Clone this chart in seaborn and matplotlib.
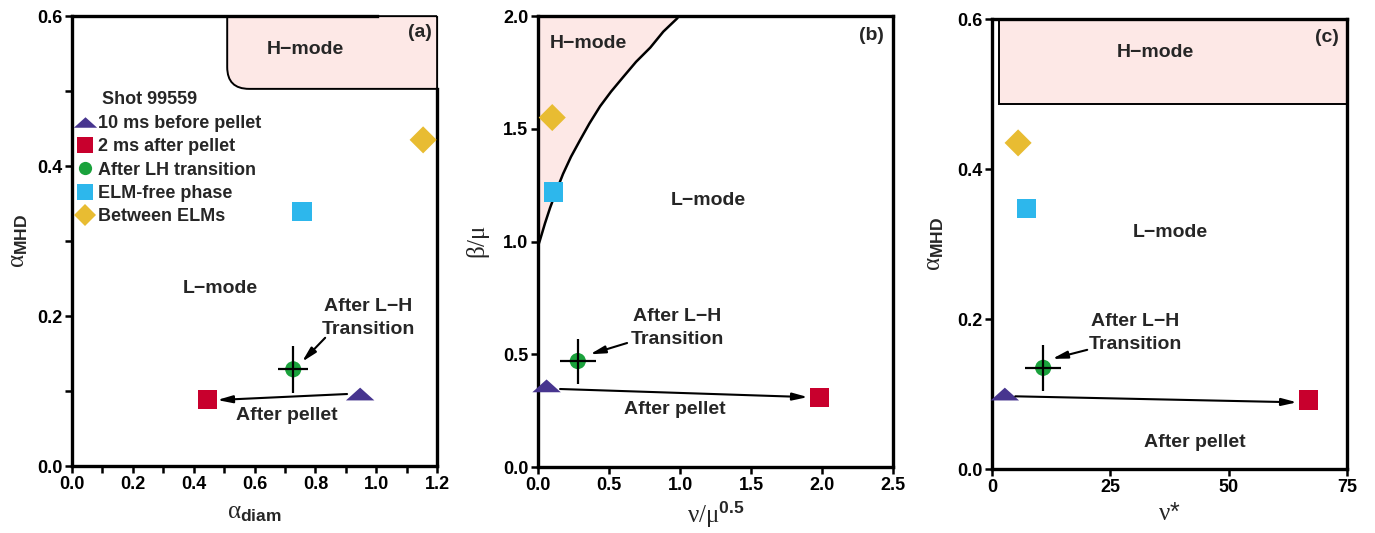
import numpy as np
import pandas as pd
import seaborn as sns
import matplotlib
matplotlib.use("Agg")
import matplotlib.pyplot as plt
from matplotlib.path import Path
from matplotlib.patches import PathPatch, Rectangle
from matplotlib.lines import Line2D

# ---------------- data ----------------
phases = ["10 ms before pellet", "2 ms after pellet", "After LH transition",
          "ELM-free phase", "Between ELMs"]
colors = ["#47358f", "#c8002d", "#1aa23c", "#2db7ec", "#e8bc32"]

# panel (a): alpha_diam vs alpha_MHD
a_x = [0.947, 0.444, 0.727, 0.756, 1.154]
a_y = [0.096, 0.089, 0.129, 0.340, 0.435]
a_xerr = 0.049
a_yerr = 0.031

# panel (b): nu/mu^0.5 vs beta/mu
b_x = [0.06, 1.98, 0.28, 0.107, 0.10]
b_y = [0.36, 0.31, 0.47, 1.22, 1.55]
b_xerr = 0.125
b_yerr = 0.10
# H-mode boundary
curve_x = [0.0, 0.014, 0.049, 0.085, 0.131, 0.176, 0.232, 0.296, 0.362,
           0.437, 0.514, 0.60, 0.69, 0.79, 0.882, 0.98, 0.99]
curve_y = [0.98, 1.007, 1.081, 1.15, 1.228, 1.30, 1.376, 1.45, 1.524,
           1.60, 1.665, 1.73, 1.797, 1.86, 1.931, 1.99, 2.0]

# panel (c): nu* vs alpha_MHD
c_x = [2.7, 66.8, 10.8, 7.2, 5.5]
c_y = [0.100, 0.092, 0.135, 0.347, 0.435]
c_xerr = 3.8
c_yerr = 0.031

# H-mode regions
a_box = dict(x0=0.51, y0=0.503, rx=0.072, ry=0.029)
c_box = dict(x0=1.5, y0=0.487)

# ---------------- style ----------------
sns.set_style("ticks")
plt.rcParams["font.family"] = ["Liberation Sans", "DejaVu Sans"]
plt.rcParams["mathtext.fontset"] = "custom"
plt.rcParams["mathtext.rm"] = "Liberation Serif"
plt.rcParams["mathtext.it"] = "Liberation Serif:italic"
plt.rcParams["mathtext.bf"] = "Liberation Sans:bold"
plt.rcParams["axes.linewidth"] = 2.4

tri = Path([(-1, -0.45), (1, -0.45), (0, 0.45), (-1, -0.45)],
           [Path.MOVETO, Path.LINETO, Path.LINETO, Path.CLOSEPOLY])
markers = [tri, "s", "o", "s", "D"]
sizes = [420, 190, 135, 190, 190]

pink = "#fde8e6"
B = "bold"

fig = plt.figure(figsize=(13.75, 5.33), dpi=100)
axA = fig.add_axes([0.0524, 0.1257, 0.2655, 0.844])
axB = fig.add_axes([0.3913, 0.1238, 0.2582, 0.846])
axC = fig.add_axes([0.7215, 0.1200, 0.2582, 0.844])


def draw_points(ax, xs, ys, xerr, yerr):
    df = pd.DataFrame({"x": xs, "y": ys, "phase": phases})
    for i, ph in enumerate(phases):
        sub = df[df.phase == ph]
        sns.scatterplot(data=sub, x="x", y="y", marker=markers[i], s=sizes[i],
                        color=colors[i], edgecolor="none", linewidth=0,
                        ax=ax, clip_on=False, zorder=5, legend=False)
    ax.errorbar(xs[2], ys[2], xerr=xerr, yerr=yerr, fmt="none",
                ecolor="black", elinewidth=1.6, capsize=0, zorder=6)


def style_axes(ax):
    ax.tick_params(axis="both", which="both", direction="out", length=5,
                   width=1.8, labelsize=13, pad=2, colors="black")
    for lab in ax.get_xticklabels() + ax.get_yticklabels():
        lab.set_fontweight(B)
    for s in ax.spines.values():
        s.set_linewidth(2.4)
        s.set_color("black")


def arrow(ax, tail, tip):
    ax.annotate("", xy=tip, xytext=tail,
                arrowprops=dict(arrowstyle="-|>,head_width=0.22,head_length=0.9",
                                color="black", lw=1.5, shrinkA=0, shrinkB=0),
                zorder=7)


txt = dict(fontsize=14, fontweight=B, ha="center", va="center")
lh = dict(linespacing=1.45, **txt)

# ---------------- panel (a) ----------------
ax = axA
ax.set_xlim(0, 1.2)
ax.set_ylim(0, 0.6)
x0, y0, rx, ry = a_box["x0"], a_box["y0"], a_box["rx"], a_box["ry"]
verts = [(1.2, 0.6), (x0, 0.6), (x0, y0 + ry), (x0, y0), (x0 + rx, y0),
         (1.2, y0), (1.2, 0.6)]
codes = [Path.MOVETO, Path.LINETO, Path.LINETO, Path.CURVE3, Path.CURVE3,
         Path.LINETO, Path.LINETO]
ax.add_patch(PathPatch(Path(verts, codes), facecolor=pink, edgecolor="black",
                       lw=1.4, zorder=1, clip_on=False))
draw_points(ax, a_x, a_y, a_xerr, a_yerr)
ax.set_xticks(np.arange(0, 1.21, 0.2))
ax.set_xticks(np.arange(0, 1.21, 0.1), minor=True)
ax.set_yticks(np.arange(0, 0.61, 0.2))
ax.set_yticks(np.arange(0, 0.61, 0.1), minor=True)
ax.set_xticklabels([f"{v:.1f}" for v in np.arange(0, 1.21, 0.2)])
ax.set_yticklabels([f"{v:.1f}" for v in np.arange(0, 0.61, 0.2)])
ax.spines["top"].set_bounds(0, 1.003)
ax.spines["right"].set_bounds(0, y0)
ax.set_xlabel(r"$\mathrm{\alpha}_{\mathbf{diam}}$", fontsize=18, labelpad=5)
ax.set_ylabel(r"$\mathrm{\alpha}_{\mathbf{MHD}}$", fontsize=18, labelpad=5)
ax.text(0.766, 0.555, "H\u2212mode", **txt)
ax.text(1.144, 0.578, "(a)", **txt)
ax.text(0.487, 0.237, "L\u2212mode", **txt)
ax.text(0.973, 0.197, "After L\u2212H\nTransition", **lh)
ax.text(0.707, 0.068, "After pellet", **txt)
arrow(ax, (0.904, 0.096), (0.477, 0.088))
arrow(ax, (0.832, 0.171), (0.756, 0.139))
ax.text(0.082, 0.814, "Shot 99559", transform=ax.transAxes, fontsize=13,
        fontweight=B, ha="left", va="center")
handles = [Line2D([], [], linestyle="none", marker=markers[i], color=colors[i],
                  markeredgewidth=0, markersize=np.sqrt(sizes[i]))
           for i in range(5)]
leg = ax.legend(handles, phases, loc="upper left", bbox_to_anchor=(0.005, 0.78),
                frameon=False, fontsize=13, handlelength=1.2, handletextpad=0.15,
                markerscale=0.82, labelspacing=0.35, borderpad=0, borderaxespad=0)
for t in leg.get_texts():
    t.set_fontweight(B)
style_axes(ax)

# ---------------- panel (b) ----------------
ax = axB
ax.set_xlim(0, 2.5)
ax.set_ylim(0, 2.0)
ax.fill_betweenx(curve_y, 0, curve_x, color=pink, zorder=1, lw=0)
sns.lineplot(x=curve_x, y=curve_y, sort=False, color="black", lw=1.8, ax=ax,
             zorder=2)
draw_points(ax, b_x, b_y, b_xerr, b_yerr)
ax.set_xticks(np.arange(0, 2.51, 0.5))
ax.set_yticks(np.arange(0, 2.01, 0.5))
ax.set_xticklabels([f"{v:.1f}" for v in np.arange(0, 2.51, 0.5)])
ax.set_yticklabels([f"{v:.1f}" for v in np.arange(0, 2.01, 0.5)])
ax.set_xlabel(r"$\mathrm{\nu/\mu}^{\mathbf{0.5}}$", fontsize=18, labelpad=4)
ax.set_ylabel(r"$\mathrm{\beta/\mu}$", fontsize=18, labelpad=8)
ax.text(0.352, 1.88, "H\u2212mode", **txt)
ax.text(2.35, 1.916, "(b)", **txt)
ax.text(1.197, 1.184, "L\u2212mode", **txt)
ax.text(0.979, 0.616, "After L\u2212H\nTransition", **lh)
ax.text(0.965, 0.253, "After pellet", **txt)
arrow(ax, (0.155, 0.346), (1.90, 0.31))
arrow(ax, (0.627, 0.55), (0.366, 0.50))
style_axes(ax)

# ---------------- panel (c) ----------------
ax = axC
ax.set_xlim(0, 75)
ax.set_ylim(0, 0.6)
ax.add_patch(Rectangle((c_box["x0"], c_box["y0"]), 75 - c_box["x0"],
                       0.6 - c_box["y0"], facecolor=pink, edgecolor="black",
                       lw=1.4, zorder=1))
draw_points(ax, c_x, c_y, c_xerr, c_yerr)
ax.set_xticks([0, 25, 50, 75])
ax.set_yticks(np.arange(0, 0.61, 0.2))
ax.set_yticklabels([f"{v:.1f}" for v in np.arange(0, 0.61, 0.2)])
ax.set_xlabel(r"$\mathrm{\nu}$*", fontsize=18, labelpad=4)
ax.set_ylabel(r"$\mathrm{\alpha}_{\mathbf{MHD}}$", fontsize=18, labelpad=8)
ax.text(34.4, 0.556, "H\u2212mode", **txt)
ax.text(70.8, 0.576, "(c)", **txt)
ax.text(37.6, 0.315, "L\u2212mode", **txt)
ax.text(30.2, 0.181, "After L\u2212H\nTransition", **lh)
ax.text(42.9, 0.036, "After pellet", **txt)
arrow(ax, (4.9, 0.097), (64.4, 0.089))
arrow(ax, (20.1, 0.159), (12.7, 0.147))
style_axes(ax)

fig.savefig("out.png", dpi=100)
